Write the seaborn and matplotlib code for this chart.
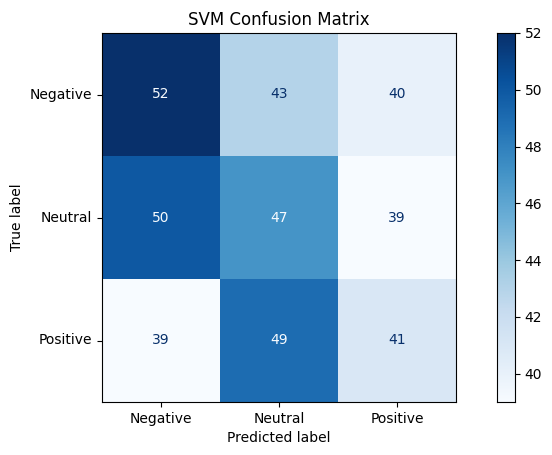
import matplotlib
matplotlib.use("Agg")
import matplotlib.pyplot as plt
import seaborn as sns
import numpy as np

labels = ["Negative", "Neutral", "Positive"]
row_neg = [52, 43, 40]
row_neu = [50, 47, 39]
row_pos = [39, 49, 41]
cm = np.array([row_neg, row_neu, row_pos])

W, H = 552, 455
fig = plt.figure(figsize=(W / 100, H / 100), dpi=100)
ax = fig.add_axes([102 / W, 1 - 402 / H, 354 / W, 369 / H])
cax = fig.add_axes([497 / W, 1 - 402 / H, 18 / W, 369 / H])
cmap = plt.get_cmap("Blues")
sns.heatmap(cm, ax=ax, cbar_ax=cax, cmap=cmap, square=False, annot=False,
            xticklabels=labels, yticklabels=labels, linewidths=0)
vmin, vmax = cm.min(), cm.max()
thresh = (vmin + vmax) / 2
for i in range(3):
    for j in range(3):
        c = cmap(0) if cm[i, j] > thresh else cmap(256)
        ax.text(j + 0.5, i + 0.5, str(cm[i, j]), ha="center", va="center", color=c, fontsize=10)
for s in ax.spines.values():
    s.set_visible(True)
    s.set_color("black")
ax.tick_params(axis="y", rotation=0)
ax.set_xlabel("Predicted label")
ax.set_ylabel("True label")
ax.set_title("SVM Confusion Matrix")
cax.set_yticks([40, 42, 44, 46, 48, 50, 52])
for s in cax.spines.values():
    s.set_visible(True)
fig.savefig("out.png", dpi=100)
